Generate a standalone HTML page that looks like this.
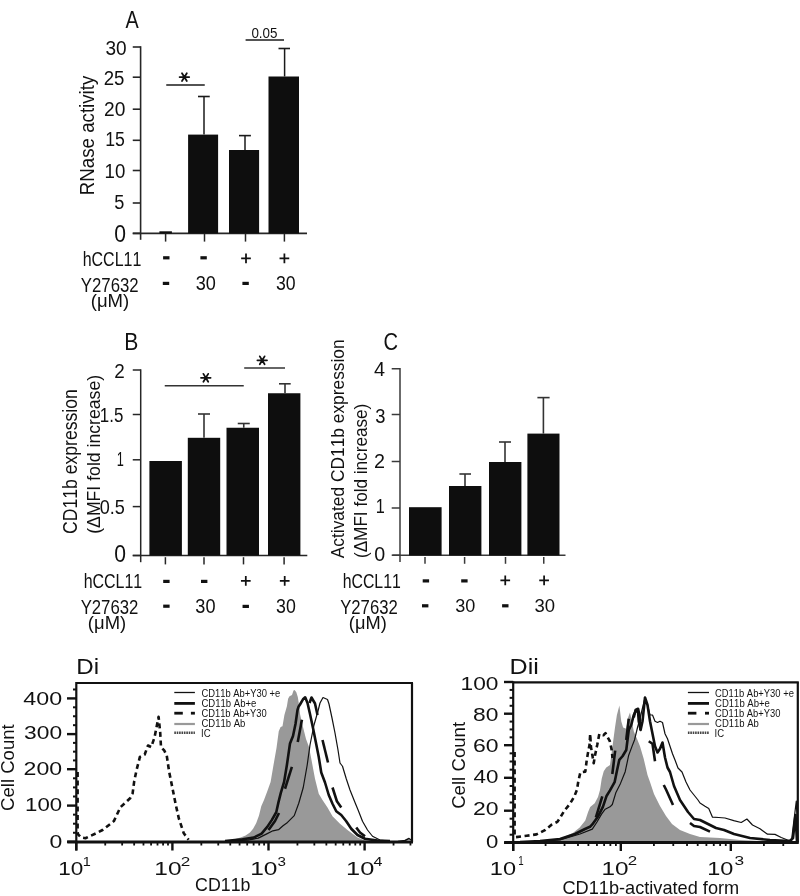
<!DOCTYPE html>
<html><head><meta charset="utf-8"><style>
html,body{margin:0;padding:0;background:#fff;}
svg{display:block;will-change:transform;}
text{font-family:"Liberation Sans",sans-serif;font-kerning:none;}
</style></head><body>
<svg width="800" height="896" viewBox="0 0 800 896">
<rect width="800" height="896" fill="#fff"/>
<text x="125.56" y="27.5" font-size="23.55" textLength="13.23" lengthAdjust="spacingAndGlyphs" fill="#111" >A</text>
<text x="105.38" y="55" font-size="20.79" textLength="21.17" lengthAdjust="spacingAndGlyphs" fill="#111" >30</text>
<text x="103.66" y="84.5" font-size="20.79" textLength="20.72" lengthAdjust="spacingAndGlyphs" fill="#111" >25</text>
<text x="104.04" y="116.4" font-size="20.79" textLength="21.31" lengthAdjust="spacingAndGlyphs" fill="#111" >20</text>
<text x="105.15" y="145.6" font-size="20.49" textLength="19.69" lengthAdjust="spacingAndGlyphs" fill="#111" >15</text>
<text x="104.58" y="178.1" font-size="20.79" textLength="20.75" lengthAdjust="spacingAndGlyphs" fill="#111" >10</text>
<text x="114.37" y="209" font-size="21.08" textLength="10.09" lengthAdjust="spacingAndGlyphs" fill="#111" >5</text>
<text x="114.27" y="241.6" font-size="23.26" textLength="11.75" lengthAdjust="spacingAndGlyphs" fill="#111" >0</text>
<line x1="132.75" y1="233.4" x2="140.6" y2="233.4" stroke="#262626" stroke-width="1.6" />
<line x1="132.75" y1="203" x2="140.6" y2="203" stroke="#262626" stroke-width="1.6" />
<line x1="132.75" y1="170.5" x2="140.6" y2="170.5" stroke="#262626" stroke-width="1.6" />
<line x1="132.75" y1="140.3" x2="140.6" y2="140.3" stroke="#262626" stroke-width="1.6" />
<line x1="132.75" y1="109.2" x2="140.6" y2="109.2" stroke="#262626" stroke-width="1.6" />
<line x1="132.75" y1="77.2" x2="140.6" y2="77.2" stroke="#262626" stroke-width="1.6" />
<line x1="132.75" y1="47" x2="140.6" y2="47" stroke="#262626" stroke-width="1.6" />
<line x1="140.6" y1="46.2" x2="140.6" y2="239.8" stroke="#262626" stroke-width="1.6" />
<line x1="132.75" y1="233.4" x2="307" y2="233.4" stroke="#262626" stroke-width="1.6" />
<line x1="165.6" y1="234" x2="165.6" y2="241.6" stroke="#262626" stroke-width="1.5" />
<line x1="204.5" y1="234" x2="204.5" y2="241.6" stroke="#262626" stroke-width="1.5" />
<line x1="245.5" y1="234" x2="245.5" y2="241.6" stroke="#262626" stroke-width="1.5" />
<line x1="284.4" y1="234" x2="284.4" y2="241.6" stroke="#262626" stroke-width="1.5" />
<rect x="159.4" y="231.3" width="12.5" height="2.1" fill="#0e0e0e"/>
<rect x="188.1" y="134.6" width="30" height="98.8" fill="#0e0e0e"/>
<rect x="229" y="150" width="30.1" height="83.4" fill="#0e0e0e"/>
<rect x="268.5" y="76.5" width="30.5" height="156.9" fill="#0e0e0e"/>
<line x1="204" y1="134.6" x2="204" y2="96.5" stroke="#1a1a1a" stroke-width="1.5" />
<line x1="198" y1="96.5" x2="209.75" y2="96.5" stroke="#1a1a1a" stroke-width="1.6" />
<line x1="245" y1="150" x2="245" y2="135.6" stroke="#1a1a1a" stroke-width="1.5" />
<line x1="239" y1="135.6" x2="250.9" y2="135.6" stroke="#1a1a1a" stroke-width="1.6" />
<line x1="284.6" y1="76.5" x2="284.6" y2="48.5" stroke="#1a1a1a" stroke-width="1.5" />
<line x1="278.5" y1="48.5" x2="290" y2="48.5" stroke="#1a1a1a" stroke-width="1.6" />
<line x1="166.25" y1="85" x2="204.75" y2="85" stroke="#1a1a1a" stroke-width="1.6" />
<path d="M179.6,77.1H189.2M182,73.16L186.8,81.04M186.8,73.16L182,81.04" stroke="#111" stroke-width="1.8" stroke-linecap="round" fill="none"/>
<line x1="245.6" y1="40" x2="284" y2="40" stroke="#1a1a1a" stroke-width="1.6" />
<text x="251.38" y="38.3" font-size="14.24" textLength="26.09" lengthAdjust="spacingAndGlyphs" fill="#111" >0.05</text>
<g transform="translate(94.4,0) rotate(-90)">
<text x="-195.13" y="0" font-size="19.48" textLength="119.37" lengthAdjust="spacingAndGlyphs" fill="#111" >RNase activity</text>
</g>
<text x="82.69" y="265.8" font-size="20.06" textLength="58.59" lengthAdjust="spacingAndGlyphs" fill="#111" >hCCL11</text>
<text x="80.83" y="291.8" font-size="19.33" textLength="57.81" lengthAdjust="spacingAndGlyphs" fill="#111" >Y27632</text>
<text x="90.75" y="307.4" font-size="18.17" textLength="38.5" lengthAdjust="spacingAndGlyphs" fill="#111" >(μM)</text>
<rect x="163.1" y="256.2" width="6.4" height="3.2" fill="#111"/>
<rect x="200.4" y="256.2" width="6.4" height="3.2" fill="#111"/>
<path d="M241.15,258.4H250.85M246,253.55V263.25" stroke="#111" stroke-width="1.75" fill="none"/>
<path d="M279.55,258.4H289.25M284.4,253.55V263.25" stroke="#111" stroke-width="1.75" fill="none"/>
<rect x="162.8" y="281.8" width="6.4" height="3.2" fill="#111"/>
<text x="195.81" y="290.4" font-size="19.77" textLength="20.15" lengthAdjust="spacingAndGlyphs" fill="#111" >30</text>
<rect x="242.4" y="281.8" width="6.4" height="3.2" fill="#111"/>
<text x="275.93" y="290.4" font-size="19.77" textLength="19.66" lengthAdjust="spacingAndGlyphs" fill="#111" >30</text>
<text x="124.27" y="350.25" font-size="23.55" textLength="14.1" lengthAdjust="spacingAndGlyphs" fill="#111" >B</text>
<text x="114.35" y="378.2" font-size="19.91" textLength="10.5" lengthAdjust="spacingAndGlyphs" fill="#111" >2</text>
<text x="99.81" y="422" font-size="19.48" textLength="23.5" lengthAdjust="spacingAndGlyphs" fill="#111" >1.5</text>
<text x="116.73" y="465.6" font-size="19.48" textLength="7.09" lengthAdjust="spacingAndGlyphs" fill="#111" >1</text>
<text x="99.79" y="514.3" font-size="20.2" textLength="25.17" lengthAdjust="spacingAndGlyphs" fill="#111" >0.5</text>
<text x="114.17" y="561.8" font-size="23.26" textLength="11.75" lengthAdjust="spacingAndGlyphs" fill="#111" >0</text>
<line x1="132.75" y1="555.5" x2="140.7" y2="555.5" stroke="#262626" stroke-width="1.5" />
<line x1="132.75" y1="506.6" x2="140.7" y2="506.6" stroke="#262626" stroke-width="1.5" />
<line x1="132.75" y1="459.8" x2="140.7" y2="459.8" stroke="#262626" stroke-width="1.5" />
<line x1="132.75" y1="414.5" x2="140.7" y2="414.5" stroke="#262626" stroke-width="1.5" />
<line x1="132.75" y1="370" x2="140.7" y2="370" stroke="#262626" stroke-width="1.5" />
<line x1="140.7" y1="369.3" x2="140.7" y2="562.2" stroke="#262626" stroke-width="1.5" />
<line x1="132.75" y1="555.5" x2="307.3" y2="555.5" stroke="#262626" stroke-width="1.5" />
<line x1="165.4" y1="557.2" x2="165.4" y2="564.4" stroke="#262626" stroke-width="1.5" />
<line x1="204" y1="557.2" x2="204" y2="564.4" stroke="#262626" stroke-width="1.5" />
<line x1="243.5" y1="557.2" x2="243.5" y2="564.4" stroke="#262626" stroke-width="1.5" />
<line x1="284.1" y1="557.2" x2="284.1" y2="564.4" stroke="#262626" stroke-width="1.5" />
<rect x="149.4" y="461" width="32.5" height="94.5" fill="#0e0e0e"/>
<rect x="187.8" y="437.8" width="32.4" height="117.7" fill="#0e0e0e"/>
<rect x="226.5" y="427.75" width="32.5" height="127.75" fill="#0e0e0e"/>
<rect x="268" y="393.25" width="32.4" height="162.25" fill="#0e0e0e"/>
<line x1="204" y1="437.8" x2="204" y2="414" stroke="#333" stroke-width="1.6" />
<line x1="198" y1="414" x2="210" y2="414" stroke="#333" stroke-width="1.6" />
<line x1="243.75" y1="427.75" x2="243.75" y2="423.5" stroke="#333" stroke-width="1.6" />
<line x1="237.75" y1="423.5" x2="249.75" y2="423.5" stroke="#333" stroke-width="1.6" />
<line x1="285" y1="393.25" x2="285" y2="383.8" stroke="#333" stroke-width="1.6" />
<line x1="279" y1="383.8" x2="290.7" y2="383.8" stroke="#333" stroke-width="1.6" />
<line x1="164.75" y1="385.75" x2="243.75" y2="385.75" stroke="#333" stroke-width="1.6" />
<path d="M201,377.8H210.6M203.4,373.86L208.2,381.74M208.2,373.86L203.4,381.74" stroke="#111" stroke-width="1.8" stroke-linecap="round" fill="none"/>
<line x1="244.2" y1="368" x2="285" y2="368" stroke="#333" stroke-width="1.6" />
<path d="M257.4,360.3H267M259.8,356.36L264.6,364.24M264.6,356.36L259.8,364.24" stroke="#111" stroke-width="1.8" stroke-linecap="round" fill="none"/>
<g transform="translate(76.9,0) rotate(-90)">
<text x="-533.99" y="0" font-size="19.48" textLength="144.74" lengthAdjust="spacingAndGlyphs" fill="#111" >CD11b expression</text>
</g>
<g transform="translate(99.6,0) rotate(-90)">
<text x="-533.79" y="0" font-size="18.9" textLength="158.89" lengthAdjust="spacingAndGlyphs" fill="#111" >(ΔMFI fold increase)</text>
</g>
<text x="83.64" y="588.1" font-size="20.06" textLength="58.64" lengthAdjust="spacingAndGlyphs" fill="#111" >hCCL11</text>
<text x="80.63" y="614.4" font-size="19.33" textLength="57.71" lengthAdjust="spacingAndGlyphs" fill="#111" >Y27632</text>
<text x="87.86" y="629.4" font-size="18.17" textLength="38.29" lengthAdjust="spacingAndGlyphs" fill="#111" >(μM)</text>
<rect x="163.2" y="579.8" width="6.4" height="3.2" fill="#111"/>
<rect x="201" y="579.8" width="6.4" height="3.2" fill="#111"/>
<path d="M240.95,580.8H250.65M245.8,575.95V585.65" stroke="#111" stroke-width="1.75" fill="none"/>
<path d="M279.85,580.8H289.55M284.7,575.95V585.65" stroke="#111" stroke-width="1.75" fill="none"/>
<rect x="163.2" y="604.6" width="6.4" height="3.2" fill="#111"/>
<text x="195.31" y="613.4" font-size="19.77" textLength="20.2" lengthAdjust="spacingAndGlyphs" fill="#111" >30</text>
<rect x="242.55" y="604.8" width="6.4" height="3.2" fill="#111"/>
<text x="276.12" y="613.4" font-size="19.77" textLength="19.77" lengthAdjust="spacingAndGlyphs" fill="#111" >30</text>
<text x="383.48" y="350" font-size="23.26" textLength="14.54" lengthAdjust="spacingAndGlyphs" fill="#111" >C</text>
<text x="373.94" y="375.5" font-size="19.48" textLength="11.04" lengthAdjust="spacingAndGlyphs" fill="#111" >4</text>
<text x="375.3" y="422.8" font-size="19.91" textLength="10.21" lengthAdjust="spacingAndGlyphs" fill="#111" >3</text>
<text x="374.01" y="468.4" font-size="19.77" textLength="10.99" lengthAdjust="spacingAndGlyphs" fill="#111" >2</text>
<text x="375.76" y="512.8" font-size="19.62" textLength="9.03" lengthAdjust="spacingAndGlyphs" fill="#111" >1</text>
<text x="374.23" y="561.3" font-size="20.79" textLength="10.94" lengthAdjust="spacingAndGlyphs" fill="#111" >0</text>
<line x1="391.7" y1="555.2" x2="400" y2="555.2" stroke="#3a3a3a" stroke-width="1.5" />
<line x1="391.7" y1="508" x2="400" y2="508" stroke="#3a3a3a" stroke-width="1.5" />
<line x1="391.7" y1="461.5" x2="400" y2="461.5" stroke="#3a3a3a" stroke-width="1.5" />
<line x1="391.7" y1="414.5" x2="400" y2="414.5" stroke="#3a3a3a" stroke-width="1.5" />
<line x1="391.7" y1="368.75" x2="400" y2="368.75" stroke="#3a3a3a" stroke-width="1.5" />
<line x1="400" y1="368.1" x2="400" y2="562" stroke="#3a3a3a" stroke-width="1.5" />
<line x1="392.5" y1="555.2" x2="565.5" y2="555.2" stroke="#3a3a3a" stroke-width="1.5" />
<line x1="425" y1="557" x2="425" y2="563.8" stroke="#3a3a3a" stroke-width="1.5" />
<line x1="464.6" y1="557" x2="464.6" y2="563.8" stroke="#3a3a3a" stroke-width="1.5" />
<line x1="505.5" y1="557" x2="505.5" y2="563.8" stroke="#3a3a3a" stroke-width="1.5" />
<line x1="543.75" y1="557" x2="543.75" y2="563.8" stroke="#3a3a3a" stroke-width="1.5" />
<rect x="409" y="507.2" width="32.6" height="48.2" fill="#0e0e0e"/>
<rect x="449" y="486" width="32.4" height="69.4" fill="#0e0e0e"/>
<rect x="489" y="462" width="32.4" height="93.4" fill="#0e0e0e"/>
<rect x="527.4" y="433.6" width="32.1" height="121.8" fill="#0e0e0e"/>
<line x1="465" y1="486" x2="465" y2="474" stroke="#333" stroke-width="1.6" />
<line x1="459.4" y1="474" x2="471" y2="474" stroke="#333" stroke-width="1.6" />
<line x1="505" y1="462" x2="505" y2="442" stroke="#333" stroke-width="1.6" />
<line x1="499" y1="442" x2="511" y2="442" stroke="#333" stroke-width="1.6" />
<line x1="543.4" y1="433.6" x2="543.4" y2="397.6" stroke="#333" stroke-width="1.6" />
<line x1="537.4" y1="397.6" x2="549.6" y2="397.6" stroke="#333" stroke-width="1.6" />
<g transform="translate(344,0) rotate(-90)">
<text x="-558.23" y="0" font-size="18.6" textLength="218.86" lengthAdjust="spacingAndGlyphs" fill="#111" >Activated CD11b expression</text>
</g>
<g transform="translate(366.5,0) rotate(-90)">
<text x="-558.06" y="0" font-size="18.6" textLength="154.33" lengthAdjust="spacingAndGlyphs" fill="#111" >(ΔMFI fold increase)</text>
</g>
<text x="342.65" y="587.75" font-size="20.06" textLength="58.12" lengthAdjust="spacingAndGlyphs" fill="#111" >hCCL11</text>
<text x="340.23" y="613.5" font-size="19.33" textLength="57.51" lengthAdjust="spacingAndGlyphs" fill="#111" >Y27632</text>
<text x="348.87" y="629.4" font-size="18.17" textLength="37.86" lengthAdjust="spacingAndGlyphs" fill="#111" >(μM)</text>
<rect x="422.7" y="579.3" width="6.4" height="3.2" fill="#111"/>
<rect x="461.2" y="579.3" width="6.4" height="3.2" fill="#111"/>
<path d="M500.4,580.4H510.1M505.25,575.55V585.25" stroke="#111" stroke-width="1.75" fill="none"/>
<path d="M539.25,580.4H548.95M544.1,575.55V585.25" stroke="#111" stroke-width="1.75" fill="none"/>
<rect x="422" y="604.2" width="6.4" height="3.2" fill="#111"/>
<text x="455.31" y="612.3" font-size="18.75" textLength="20.09" lengthAdjust="spacingAndGlyphs" fill="#111" >30</text>
<rect x="502.1" y="604.2" width="6.4" height="3.2" fill="#111"/>
<text x="534.55" y="612.3" font-size="18.75" textLength="20.58" lengthAdjust="spacingAndGlyphs" fill="#111" >30</text>
<polygon points="215,842 228,840.5 234.4,839.2 240.6,837.5 245.6,835.6 250,832.5 253.1,828.75 256.25,823.1 259,815.6 261.25,806.25 264,800 267.75,790 270.6,781.9 273.5,765 276.5,748 278.75,731.25 280.6,726.9 282.5,726.25 284.4,715 286.9,706.25 288.1,698.75 289.5,696.25 292,695 293.5,690.4 294.6,690 296.3,692.3 297.8,697 298.6,702 299.3,706.5 300,714 303,727 306,739 309,747 311.5,760 315,778.75 318.75,793.75 322.5,800 327.5,807.5 332.5,816.25 340,823.75 347.5,830 357.5,837.5 365,840.6 380,842" fill="#999"/>
<polyline points="77.6,772 77.6,832 78.1,834.3 81,837.5 85.4,838.2 96,833.3 102.5,830 113.9,821.1 120.4,807.3 130.1,798.3 132.6,793.5 134.2,781.3 136.6,769.9 139.9,756.9 144.7,754.5 148,745.5 151.2,747.1 154.5,737.4 156.1,729.3 158.6,716.8 160.2,732.5 161,747.1 164.2,750.4 166.7,755.3 169.1,771.5 172.4,787.8 175.6,804 178.9,818.7 183.8,833.3 188.6,839.8" fill="none" stroke="#111" stroke-width="2.6" stroke-linejoin="round" stroke-dasharray="5 3.6"/>
<polyline points="230,841 248.1,840.1 258.25,838.1 267.25,833.6 272.9,830.8 278.5,829.7 283,825.75 287.5,822.4 294.25,815.6 298.75,803.25 303.25,787.5 307.2,765 310,745 314,725 318,711 320,703 323,697.5 327.5,699.5 329,704 332,718 335,733 338,750 340,763 342.5,766.25 346.25,778.75 350,790 355,802.5 358.1,810 362.5,821.25 367.5,830 372.5,836.25 380,840 390,841.25" fill="none" stroke="#111" stroke-width="1.2" stroke-linejoin="round" />
<polyline points="225,841 242.5,839.25 253.75,837.6 261.6,833.6 267.25,826.9 271.75,820.1 276.25,812.25 278.5,802.1 280.75,793.1 284.1,781.9 286.9,765 290,743.5 293,736 295.5,724 297.5,710 298.5,706.8 300,704.5 303,699.3 305.2,697.3 307.5,703 310,714 313,728 316,743 318.75,757 321.25,772.5 325,782.5 328.75,795 332.5,803.75 336.25,811.25 341.25,815 346.25,821.25 351.25,828.75 357.5,835 365,838.75 377.5,840.6 390,841" fill="none" stroke="#111" stroke-width="2.6" stroke-linejoin="round" />
<polyline points="279,813 275,821 268.5,830" fill="none" stroke="#111" stroke-width="2.6" stroke-linejoin="round" stroke-linecap="butt"/>
<polyline points="285,788.75 291.9,766.9" fill="none" stroke="#111" stroke-width="2.6" stroke-linejoin="round" stroke-linecap="butt"/>
<polyline points="297.75,741.9 301.9,719.75" fill="none" stroke="#111" stroke-width="2.6" stroke-linejoin="round" stroke-linecap="butt"/>
<polyline points="309.5,703 311.5,697.5 315,703.5 317.5,715" fill="none" stroke="#111" stroke-width="2.6" stroke-linejoin="round" stroke-linecap="butt"/>
<polyline points="322.5,740 328,762.5" fill="none" stroke="#111" stroke-width="2.6" stroke-linejoin="round" stroke-linecap="butt"/>
<polyline points="332.5,787.5 336.9,801.25 341.25,807.5" fill="none" stroke="#111" stroke-width="2.6" stroke-linejoin="round" stroke-linecap="butt"/>
<polyline points="356.25,827.5 360,832.5 365,836.25" fill="none" stroke="#111" stroke-width="2.6" stroke-linejoin="round" stroke-linecap="butt"/>
<polyline points="398,841.5 405,840.5 409,838.5 411,840" fill="none" stroke="#111" stroke-width="1.5" stroke-linejoin="round" />
<line x1="76.3" y1="683" x2="413" y2="683" stroke="#111" stroke-width="2.2" />
<line x1="412" y1="683" x2="412" y2="842" stroke="#111" stroke-width="2.2" />
<line x1="76.3" y1="682" x2="76.3" y2="850.5" stroke="#111" stroke-width="2.2" />
<line x1="67.3" y1="842" x2="413" y2="842" stroke="#111" stroke-width="3" />
<line x1="67" y1="841.8" x2="76.3" y2="841.8" stroke="#111" stroke-width="2.4" />
<line x1="73" y1="832.75" x2="76.3" y2="832.75" stroke="#111" stroke-width="2" />
<line x1="73" y1="823.7" x2="76.3" y2="823.7" stroke="#111" stroke-width="2" />
<line x1="73" y1="814.65" x2="76.3" y2="814.65" stroke="#111" stroke-width="2" />
<line x1="67" y1="805.6" x2="76.3" y2="805.6" stroke="#111" stroke-width="2.4" />
<line x1="73" y1="796.5" x2="76.3" y2="796.5" stroke="#111" stroke-width="2" />
<line x1="73" y1="787.4" x2="76.3" y2="787.4" stroke="#111" stroke-width="2" />
<line x1="73" y1="778.3" x2="76.3" y2="778.3" stroke="#111" stroke-width="2" />
<line x1="67" y1="769.2" x2="76.3" y2="769.2" stroke="#111" stroke-width="2.4" />
<line x1="73" y1="760.43" x2="76.3" y2="760.43" stroke="#111" stroke-width="2" />
<line x1="73" y1="751.65" x2="76.3" y2="751.65" stroke="#111" stroke-width="2" />
<line x1="73" y1="742.88" x2="76.3" y2="742.88" stroke="#111" stroke-width="2" />
<line x1="67" y1="734.1" x2="76.3" y2="734.1" stroke="#111" stroke-width="2.4" />
<line x1="73" y1="725.17" x2="76.3" y2="725.17" stroke="#111" stroke-width="2" />
<line x1="73" y1="716.25" x2="76.3" y2="716.25" stroke="#111" stroke-width="2" />
<line x1="73" y1="707.32" x2="76.3" y2="707.32" stroke="#111" stroke-width="2" />
<line x1="67" y1="698.4" x2="76.3" y2="698.4" stroke="#111" stroke-width="2.4" />
<line x1="73" y1="689.48" x2="76.3" y2="689.48" stroke="#111" stroke-width="2" />
<text x="49.4" y="847.8" font-size="18.6" textLength="12.8" lengthAdjust="spacingAndGlyphs" fill="#111" >0</text>
<text x="25.11" y="811.1" font-size="18.6" textLength="37.06" lengthAdjust="spacingAndGlyphs" fill="#111" >100</text>
<text x="23.64" y="774.9" font-size="18.6" textLength="38.57" lengthAdjust="spacingAndGlyphs" fill="#111" >200</text>
<text x="24.13" y="738.9" font-size="18.6" textLength="38.06" lengthAdjust="spacingAndGlyphs" fill="#111" >300</text>
<text x="23.37" y="705.1" font-size="18.6" textLength="38.84" lengthAdjust="spacingAndGlyphs" fill="#111" >400</text>
<line x1="76.3" y1="842" x2="76.3" y2="850.5" stroke="#111" stroke-width="2.4" />
<line x1="105.23" y1="842" x2="105.23" y2="845.5" stroke="#111" stroke-width="1.8" />
<line x1="122.15" y1="842" x2="122.15" y2="845.5" stroke="#111" stroke-width="1.8" />
<line x1="134.16" y1="842" x2="134.16" y2="845.5" stroke="#111" stroke-width="1.8" />
<line x1="143.47" y1="842" x2="143.47" y2="845.5" stroke="#111" stroke-width="1.8" />
<line x1="151.08" y1="842" x2="151.08" y2="845.5" stroke="#111" stroke-width="1.8" />
<line x1="157.51" y1="842" x2="157.51" y2="845.5" stroke="#111" stroke-width="1.8" />
<line x1="163.09" y1="842" x2="163.09" y2="845.5" stroke="#111" stroke-width="1.8" />
<line x1="168" y1="842" x2="168" y2="845.5" stroke="#111" stroke-width="1.8" />
<line x1="172.4" y1="842" x2="172.4" y2="850.5" stroke="#111" stroke-width="2.4" />
<line x1="201.33" y1="842" x2="201.33" y2="845.5" stroke="#111" stroke-width="1.8" />
<line x1="218.25" y1="842" x2="218.25" y2="845.5" stroke="#111" stroke-width="1.8" />
<line x1="230.26" y1="842" x2="230.26" y2="845.5" stroke="#111" stroke-width="1.8" />
<line x1="239.57" y1="842" x2="239.57" y2="845.5" stroke="#111" stroke-width="1.8" />
<line x1="247.18" y1="842" x2="247.18" y2="845.5" stroke="#111" stroke-width="1.8" />
<line x1="253.61" y1="842" x2="253.61" y2="845.5" stroke="#111" stroke-width="1.8" />
<line x1="259.19" y1="842" x2="259.19" y2="845.5" stroke="#111" stroke-width="1.8" />
<line x1="264.1" y1="842" x2="264.1" y2="845.5" stroke="#111" stroke-width="1.8" />
<line x1="268.5" y1="842" x2="268.5" y2="850.5" stroke="#111" stroke-width="2.4" />
<line x1="297.43" y1="842" x2="297.43" y2="845.5" stroke="#111" stroke-width="1.8" />
<line x1="314.35" y1="842" x2="314.35" y2="845.5" stroke="#111" stroke-width="1.8" />
<line x1="326.36" y1="842" x2="326.36" y2="845.5" stroke="#111" stroke-width="1.8" />
<line x1="335.67" y1="842" x2="335.67" y2="845.5" stroke="#111" stroke-width="1.8" />
<line x1="343.28" y1="842" x2="343.28" y2="845.5" stroke="#111" stroke-width="1.8" />
<line x1="349.71" y1="842" x2="349.71" y2="845.5" stroke="#111" stroke-width="1.8" />
<line x1="355.29" y1="842" x2="355.29" y2="845.5" stroke="#111" stroke-width="1.8" />
<line x1="360.2" y1="842" x2="360.2" y2="845.5" stroke="#111" stroke-width="1.8" />
<line x1="364.6" y1="842" x2="364.6" y2="850.5" stroke="#111" stroke-width="2.4" />
<line x1="393.53" y1="842" x2="393.53" y2="845.5" stroke="#111" stroke-width="1.8" />
<line x1="410.45" y1="842" x2="410.45" y2="845.5" stroke="#111" stroke-width="1.8" />
<text x="58.28" y="874.9" font-size="18.46" textLength="25.1" lengthAdjust="spacingAndGlyphs" fill="#111" >10</text>
<text x="82.65" y="865.6" font-size="13.66" textLength="8.06" lengthAdjust="spacingAndGlyphs" fill="#111" >1</text>
<text x="154.39" y="874.9" font-size="18.46" textLength="27.16" lengthAdjust="spacingAndGlyphs" fill="#111" >10</text>
<text x="180.74" y="865.6" font-size="13.66" textLength="9.52" lengthAdjust="spacingAndGlyphs" fill="#111" >2</text>
<text x="250.24" y="874.9" font-size="18.46" textLength="27.22" lengthAdjust="spacingAndGlyphs" fill="#111" >10</text>
<text x="277.52" y="865.6" font-size="13.66" textLength="8.45" lengthAdjust="spacingAndGlyphs" fill="#111" >3</text>
<text x="346.07" y="874.9" font-size="18.46" textLength="28.22" lengthAdjust="spacingAndGlyphs" fill="#111" >10</text>
<text x="373.63" y="865.6" font-size="13.66" textLength="8.94" lengthAdjust="spacingAndGlyphs" fill="#111" >4</text>
<text x="195.1" y="890.5" font-size="18.9" textLength="55.35" lengthAdjust="spacingAndGlyphs" fill="#111" >CD11b</text>
<text x="76.32" y="674.2" font-size="21.22" textLength="22.81" lengthAdjust="spacingAndGlyphs" fill="#111" >Di</text>
<g transform="translate(14,0) rotate(-90)">
<text x="-810.94" y="0" font-size="18.9" textLength="86.68" lengthAdjust="spacingAndGlyphs" fill="#111" >Cell Count</text>
</g>
<line x1="174.3" y1="692.5" x2="194.9" y2="692.5" stroke="#111" stroke-width="1.3" />
<line x1="174.3" y1="703.4" x2="194.9" y2="703.4" stroke="#111" stroke-width="2.8" />
<line x1="174.3" y1="713.2" x2="182.8" y2="713.2" stroke="#111" stroke-width="2.8" />
<line x1="190.9" y1="713.2" x2="194.9" y2="713.2" stroke="#111" stroke-width="2.8" />
<line x1="174.3" y1="724" x2="194.9" y2="724" stroke="#999" stroke-width="2.2" />
<line x1="174.3" y1="732.8" x2="194.9" y2="732.8" stroke="#444" stroke-width="2.6" stroke-dasharray="1.6 0.8"/>
<text x="201.42" y="697.2" font-size="10.61" textLength="78.89" lengthAdjust="spacingAndGlyphs" fill="#141414" >CD11b Ab+Y30 +e</text>
<text x="201.42" y="707.3" font-size="10.61" textLength="54.91" lengthAdjust="spacingAndGlyphs" fill="#141414" >CD11b Ab+e</text>
<text x="201.42" y="717.1" font-size="10.61" textLength="65.34" lengthAdjust="spacingAndGlyphs" fill="#141414" >CD11b Ab+Y30</text>
<text x="201.42" y="727.2" font-size="10.61" textLength="43.88" lengthAdjust="spacingAndGlyphs" fill="#141414" >CD11b Ab</text>
<text x="201.02" y="737" font-size="10.61" textLength="9.54" lengthAdjust="spacingAndGlyphs" fill="#141414" >IC</text>
<polygon points="540,842.6 555,840 563,837.2 572.8,833 579.7,827.4 585.3,820.4 588.1,812 590.2,807 594.7,803.3 598,797 600,790 601.7,778.7 603.75,771.25 606.25,767.5 610,765 612.5,746.25 615,727.5 616.9,715 619.4,705.6 621.25,721.25 623.1,727.5 626.25,728.75 628.1,717.5 630,712.5 631.9,721.25 633.75,731.25 637.5,740 640,746.25 643.75,759 647.5,775 650,782 654,794 660,806 666,816 672,824 680,830 690,834 700,837 720,838 740,840 760,841 780,842.6" fill="#999"/>
<polyline points="514.6,752 514.6,836 515.6,837.2 526.7,835.8 536.5,834.4 544.9,830.2 551.8,824.6 557.4,821.8 560.2,817.6 564.4,810.7 570,803.7 574.2,796.7 577,789.7 578.3,781.4 580.4,772.3 585.3,771.6 586.7,760.4 588.1,752.1 589.5,745.1 590.2,734 590.9,746.5 592.3,754.9 593.7,763.2 595.1,754.9 597.2,745.1 599.3,734 603.4,735.3 605.5,733.2 609.7,740.9 611.7,750 612.5,758" fill="none" stroke="#111" stroke-width="2.6" stroke-linejoin="round" stroke-dasharray="5 3.6"/>
<polyline points="530,842 560,840 580,834 592.3,829.1 597,822 601.7,813.9 605.2,809.2 610,806.8 612.3,804.5 615.8,792.8 620.5,783.4 625.2,771.7 628.7,755.2 632.2,745.9 634.5,740 637.5,727.5 640,718.75 642,710 645,698 647.5,705 650,715 652.5,715 655,721.25 657.5,722.5 660,721.25 662.5,722.5 665,733.75 667.5,738.75 670,746.25 672.5,753.75 675,760 678,768 682,772 686,782 690,790 698,800 700,803 705,806.25 708.75,808.5 712.5,817.2 718.75,817.5 725,818 733.75,820.6 741.25,822.5 746.9,819 752.5,825 760,828.75 767.5,834.2 775,834.4 781.25,837.5 787.5,840 791.5,840.5 796.3,801 798,842" fill="none" stroke="#111" stroke-width="1.2" stroke-linejoin="round" />
<polyline points="520,842 540,841 560,839 575,834 585,829 590,826.8 592.3,824.4 598.2,816.2 602.9,806.8 606.4,796.3 610,790.4 614.6,782.2 617,770.5 619.3,759.9 622.5,756.25 626.25,750 627.5,740 628.75,730 631.25,725 633.75,715 636.25,710 638.1,712.5 638.75,721.25 640.6,730 642.5,721.25 645,697.5 647.5,705 650,721.25 652.5,733.75 655,746.25 657.5,752.5 660,748.75 662.5,742.5 665,757.5 667.5,767.5 670,772 674,786 680,800 688,812 694,819 700,820 708,824 716,828 724,830 734,834 750,838 770,840 790,841 793,838 795.5,815 797,842" fill="none" stroke="#111" stroke-width="2.6" stroke-linejoin="round" />
<polyline points="595.9,817.4 602.3,796.3" fill="none" stroke="#111" stroke-width="2.6" stroke-linejoin="round" stroke-linecap="butt"/>
<polyline points="612.3,774 615.2,750.6" fill="none" stroke="#111" stroke-width="2.6" stroke-linejoin="round" stroke-linecap="butt"/>
<polyline points="626.25,740 628.75,718.75" fill="none" stroke="#111" stroke-width="2.6" stroke-linejoin="round" stroke-linecap="butt"/>
<polyline points="633.75,717.5 635.6,710 638.1,708.75 639.4,715 640,721.25 640.6,730" fill="none" stroke="#111" stroke-width="2.6" stroke-linejoin="round" stroke-linecap="butt"/>
<polyline points="648.75,741.25 652.5,743.75 655,761.25" fill="none" stroke="#111" stroke-width="2.6" stroke-linejoin="round" stroke-linecap="butt"/>
<polyline points="663.75,785 666.25,790 673,805" fill="none" stroke="#111" stroke-width="2.6" stroke-linejoin="round" stroke-linecap="butt"/>
<polyline points="690,823 694,826 700,827 710,831.6" fill="none" stroke="#111" stroke-width="2.6" stroke-linejoin="round" stroke-linecap="butt"/>
<line x1="513.2" y1="682.3" x2="798.8" y2="682.3" stroke="#111" stroke-width="2.2" />
<line x1="797.8" y1="682.3" x2="797.8" y2="842.6" stroke="#111" stroke-width="2.2" />
<line x1="513.2" y1="681.3" x2="513.2" y2="851" stroke="#111" stroke-width="2.2" />
<line x1="504.2" y1="842.6" x2="798.8" y2="842.6" stroke="#111" stroke-width="3" />
<line x1="504" y1="842.7" x2="513.2" y2="842.7" stroke="#111" stroke-width="2.4" />
<line x1="509.6" y1="834.7" x2="513.2" y2="834.7" stroke="#111" stroke-width="2" />
<line x1="509.6" y1="826.7" x2="513.2" y2="826.7" stroke="#111" stroke-width="2" />
<line x1="509.6" y1="818.7" x2="513.2" y2="818.7" stroke="#111" stroke-width="2" />
<line x1="504" y1="810.7" x2="513.2" y2="810.7" stroke="#111" stroke-width="2.4" />
<line x1="509.6" y1="802.48" x2="513.2" y2="802.48" stroke="#111" stroke-width="2" />
<line x1="509.6" y1="794.25" x2="513.2" y2="794.25" stroke="#111" stroke-width="2" />
<line x1="509.6" y1="786.02" x2="513.2" y2="786.02" stroke="#111" stroke-width="2" />
<line x1="504" y1="777.8" x2="513.2" y2="777.8" stroke="#111" stroke-width="2.4" />
<line x1="509.6" y1="769.65" x2="513.2" y2="769.65" stroke="#111" stroke-width="2" />
<line x1="509.6" y1="761.5" x2="513.2" y2="761.5" stroke="#111" stroke-width="2" />
<line x1="509.6" y1="753.35" x2="513.2" y2="753.35" stroke="#111" stroke-width="2" />
<line x1="504" y1="745.2" x2="513.2" y2="745.2" stroke="#111" stroke-width="2.4" />
<line x1="509.6" y1="737.33" x2="513.2" y2="737.33" stroke="#111" stroke-width="2" />
<line x1="509.6" y1="729.45" x2="513.2" y2="729.45" stroke="#111" stroke-width="2" />
<line x1="509.6" y1="721.58" x2="513.2" y2="721.58" stroke="#111" stroke-width="2" />
<line x1="504" y1="713.7" x2="513.2" y2="713.7" stroke="#111" stroke-width="2.4" />
<line x1="509.6" y1="705.78" x2="513.2" y2="705.78" stroke="#111" stroke-width="2" />
<line x1="509.6" y1="697.85" x2="513.2" y2="697.85" stroke="#111" stroke-width="2" />
<line x1="509.6" y1="689.92" x2="513.2" y2="689.92" stroke="#111" stroke-width="2" />
<line x1="504" y1="682" x2="513.2" y2="682" stroke="#111" stroke-width="2.4" />
<text x="486.13" y="847.6" font-size="18.6" textLength="12.33" lengthAdjust="spacingAndGlyphs" fill="#111" >0</text>
<text x="472.94" y="814.9" font-size="18.6" textLength="25.55" lengthAdjust="spacingAndGlyphs" fill="#111" >20</text>
<text x="473.59" y="783.4" font-size="18.6" textLength="24.89" lengthAdjust="spacingAndGlyphs" fill="#111" >40</text>
<text x="472.93" y="751.6" font-size="18.6" textLength="25.56" lengthAdjust="spacingAndGlyphs" fill="#111" >60</text>
<text x="473.11" y="720.6" font-size="18.6" textLength="25.38" lengthAdjust="spacingAndGlyphs" fill="#111" >80</text>
<text x="460.57" y="690.4" font-size="18.6" textLength="37.92" lengthAdjust="spacingAndGlyphs" fill="#111" >100</text>
<line x1="513.2" y1="842.6" x2="513.2" y2="851" stroke="#111" stroke-width="2.4" />
<line x1="545.59" y1="842.6" x2="545.59" y2="846" stroke="#111" stroke-width="1.8" />
<line x1="564.54" y1="842.6" x2="564.54" y2="846" stroke="#111" stroke-width="1.8" />
<line x1="577.98" y1="842.6" x2="577.98" y2="846" stroke="#111" stroke-width="1.8" />
<line x1="588.41" y1="842.6" x2="588.41" y2="846" stroke="#111" stroke-width="1.8" />
<line x1="596.93" y1="842.6" x2="596.93" y2="846" stroke="#111" stroke-width="1.8" />
<line x1="604.13" y1="842.6" x2="604.13" y2="846" stroke="#111" stroke-width="1.8" />
<line x1="610.37" y1="842.6" x2="610.37" y2="846" stroke="#111" stroke-width="1.8" />
<line x1="615.88" y1="842.6" x2="615.88" y2="846" stroke="#111" stroke-width="1.8" />
<line x1="620.8" y1="842.6" x2="620.8" y2="851" stroke="#111" stroke-width="2.4" />
<line x1="653.91" y1="842.6" x2="653.91" y2="846" stroke="#111" stroke-width="1.8" />
<line x1="673.28" y1="842.6" x2="673.28" y2="846" stroke="#111" stroke-width="1.8" />
<line x1="687.03" y1="842.6" x2="687.03" y2="846" stroke="#111" stroke-width="1.8" />
<line x1="697.69" y1="842.6" x2="697.69" y2="846" stroke="#111" stroke-width="1.8" />
<line x1="706.4" y1="842.6" x2="706.4" y2="846" stroke="#111" stroke-width="1.8" />
<line x1="713.76" y1="842.6" x2="713.76" y2="846" stroke="#111" stroke-width="1.8" />
<line x1="720.14" y1="842.6" x2="720.14" y2="846" stroke="#111" stroke-width="1.8" />
<line x1="725.77" y1="842.6" x2="725.77" y2="846" stroke="#111" stroke-width="1.8" />
<line x1="730.8" y1="842.6" x2="730.8" y2="851" stroke="#111" stroke-width="2.4" />
<line x1="763.91" y1="842.6" x2="763.91" y2="846" stroke="#111" stroke-width="1.8" />
<line x1="783.28" y1="842.6" x2="783.28" y2="846" stroke="#111" stroke-width="1.8" />
<text x="489.8" y="875.2" font-size="18.46" textLength="26.22" lengthAdjust="spacingAndGlyphs" fill="#111" >10</text>
<text x="518.26" y="865.4" font-size="13.66" textLength="5.42" lengthAdjust="spacingAndGlyphs" fill="#111" >1</text>
<text x="601.4" y="875.2" font-size="18.46" textLength="27.05" lengthAdjust="spacingAndGlyphs" fill="#111" >10</text>
<text x="627.75" y="865.4" font-size="13.66" textLength="9.4" lengthAdjust="spacingAndGlyphs" fill="#111" >2</text>
<text x="707.31" y="875.2" font-size="18.46" textLength="26.1" lengthAdjust="spacingAndGlyphs" fill="#111" >10</text>
<text x="734.64" y="865.4" font-size="13.66" textLength="9.62" lengthAdjust="spacingAndGlyphs" fill="#111" >3</text>
<text x="562.48" y="894.1" font-size="18.31" textLength="176.72" lengthAdjust="spacingAndGlyphs" fill="#111" >CD11b-activated form</text>
<text x="509.64" y="674" font-size="21.51" textLength="29.25" lengthAdjust="spacingAndGlyphs" fill="#111" >Dii</text>
<g transform="translate(464.5,0) rotate(-90)">
<text x="-808.85" y="0" font-size="18.9" textLength="86.98" lengthAdjust="spacingAndGlyphs" fill="#111" >Cell Count</text>
</g>
<line x1="687.9" y1="692.5" x2="709" y2="692.5" stroke="#111" stroke-width="1.3" />
<line x1="687.9" y1="703.4" x2="709" y2="703.4" stroke="#111" stroke-width="2.8" />
<line x1="687.9" y1="713.2" x2="696.4" y2="713.2" stroke="#111" stroke-width="2.8" />
<line x1="705" y1="713.2" x2="709" y2="713.2" stroke="#111" stroke-width="2.8" />
<line x1="687.9" y1="724" x2="709" y2="724" stroke="#999" stroke-width="2.2" />
<line x1="687.9" y1="732.8" x2="709" y2="732.8" stroke="#444" stroke-width="2.6" stroke-dasharray="1.6 0.8"/>
<text x="715.02" y="697.2" font-size="10.61" textLength="78.89" lengthAdjust="spacingAndGlyphs" fill="#141414" >CD11b Ab+Y30 +e</text>
<text x="715.02" y="707.3" font-size="10.61" textLength="54.91" lengthAdjust="spacingAndGlyphs" fill="#141414" >CD11b Ab+e</text>
<text x="715.02" y="717.1" font-size="10.61" textLength="65.34" lengthAdjust="spacingAndGlyphs" fill="#141414" >CD11b Ab+Y30</text>
<text x="715.02" y="727.2" font-size="10.61" textLength="43.88" lengthAdjust="spacingAndGlyphs" fill="#141414" >CD11b Ab</text>
<text x="714.62" y="737" font-size="10.61" textLength="9.54" lengthAdjust="spacingAndGlyphs" fill="#141414" >IC</text>
</svg>
</body></html>
